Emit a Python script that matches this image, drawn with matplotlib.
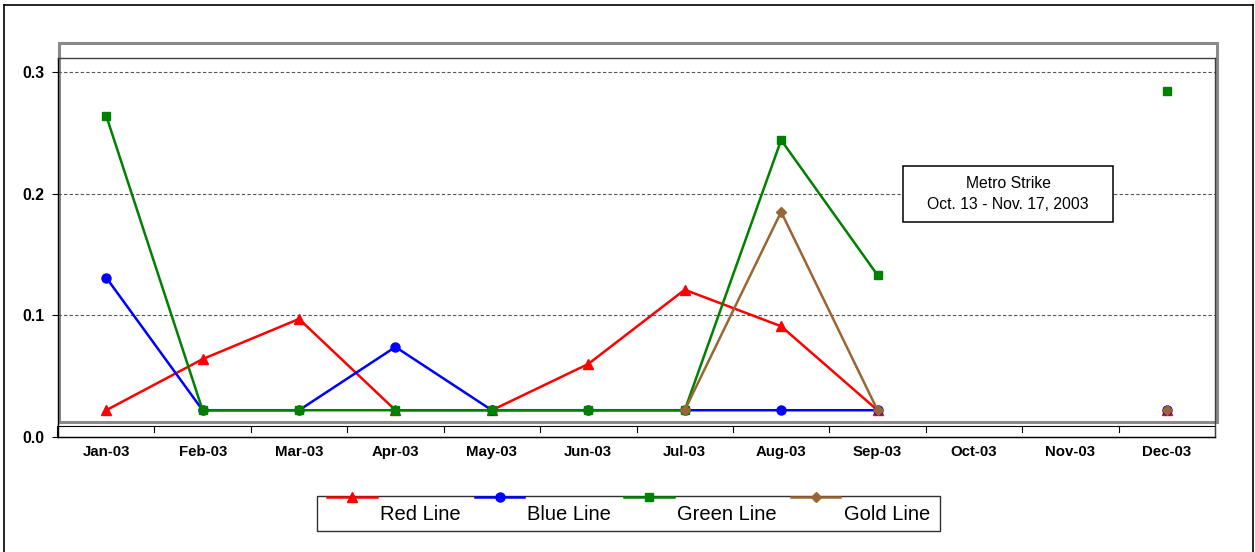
import numpy as np
import matplotlib
matplotlib.use("Agg")
import matplotlib.pyplot as plt
from matplotlib.patches import Rectangle
from matplotlib.lines import Line2D
from matplotlib.transforms import blended_transform_factory

plt.rcParams['font.family'] = ['Liberation Sans', 'DejaVu Sans']

# ---- data -------------------------------------------------------------
months = ['Jan-03', 'Feb-03', 'Mar-03', 'Apr-03', 'May-03', 'Jun-03',
          'Jul-03', 'Aug-03', 'Sep-03', 'Oct-03', 'Nov-03', 'Dec-03']
nan = np.nan
red_line = [0.022, 0.064, 0.097, 0.022, 0.022, 0.060, 0.121, 0.091, 0.022, nan, nan, 0.022]
blue_line = [0.131, 0.022, 0.022, 0.074, 0.022, 0.022, 0.022, 0.022, 0.022, nan, nan, 0.022]
green_line = [0.264, 0.022, 0.022, 0.022, 0.022, 0.022, 0.022, 0.244, 0.133, nan, nan, 0.284]
gold_line = [nan, nan, nan, nan, nan, nan, 0.022, 0.185, 0.022, nan, nan, 0.022]
y_ticks = [0.0, 0.1, 0.2, 0.3]
y_tick_labels = ['0.0', '0.1', '0.2', '0.3']
note_text = 'Metro Strike\nOct. 13 - Nov. 17, 2003'

series = [
    ('Red Line', red_line, '#FF0000', '^', 7.5),
    ('Blue Line', blue_line, '#0000FF', 'o', 6.5),
    ('Green Line', green_line, '#008000', 's', 6.2),
    ('Gold Line', gold_line, '#996633', 'D', 5.0),
]

# ---- figure -----------------------------------------------------------
W, H = 1255, 552
fig = plt.figure(figsize=(W / 100, H / 100), dpi=100)


def fx(x):
    return x / W


def fy(y):
    return 1 - y / H


# outer chart border
for xs, ys in [([4, 4], [5, H + 5]), ([4, 1253], [5, 5]), ([1253, 1253], [5, H + 5])]:
    fig.add_artist(Line2D([fx(v) for v in xs], [fy(v) for v in ys],
                          transform=fig.transFigure, color='black', lw=1.2))

ax = fig.add_axes([fx(58), fy(437), fx(1215) - fx(58), fy(58) - fy(437)])
ax.set_facecolor('none')
ax.set_xlim(-0.5, len(months) - 0.5)
ax.set_ylim(0, (437 - 58) / 1217)
ax.set_axisbelow(True)

# back wall
ax.add_patch(Rectangle((fx(59), fy(422)), fx(1217) - fx(59), fy(43) - fy(422),
                       transform=fig.transFigure, facecolor='white',
                       edgecolor='#8a8a8a', lw=2.2, clip_on=False, zorder=0.2))
# floor strip
ax.add_patch(Rectangle((fx(57), fy(437)), fx(1215) - fx(57), fy(426) - fy(437),
                       transform=fig.transFigure, facecolor='white',
                       edgecolor='black', lw=0.8, clip_on=False, zorder=1))
# category separators on the floor
trans = blended_transform_factory(ax.transData, fig.transFigure)
for k in range(1, len(months)):
    ax.plot([k - 0.5, k - 0.5], [fy(426), fy(432)], transform=trans,
            color='black', lw=0.8, clip_on=False, zorder=1.1)

for side in ('left', 'bottom'):
    ax.spines[side].set_color('black')
    ax.spines[side].set_linewidth(1.0)
for side in ('top', 'right'):
    ax.spines[side].set_color('#404040')
    ax.spines[side].set_linewidth(1.0)

ax.set_yticks(y_ticks)
ax.set_yticklabels(y_tick_labels, fontsize=11.4, fontweight='bold')
ax.tick_params(axis='y', direction='out', length=4.3, width=0.8, pad=5.5)
ax.yaxis.grid(True, linestyle=(0, (3, 2)), color='#555555', lw=0.8)

ax.set_xticks(range(len(months)))
ax.set_xticklabels(months, fontsize=10.8, fontweight='bold')
ax.tick_params(axis='x', length=0, pad=6)

# series
for i, (name, vals, col, mk, ms) in enumerate(series):
    ax.plot(range(len(months)), vals, color=col, lw=1.8, marker=mk, ms=ms,
            mfc=col, mec=col, clip_on=False, zorder=3 + i, label=name)

# strike note
fig.add_artist(Rectangle((fx(903), fy(222)), fx(1113) - fx(903), fy(166) - fy(222),
                         transform=fig.transFigure, facecolor='white',
                         edgecolor='black', lw=1.1, zorder=10))
fig.text(fx(1008), fy(194), note_text, ha='center', va='center',
         fontsize=11.3, linespacing=1.45, zorder=11)

# legend
fig.add_artist(Rectangle((fx(317), fy(531)), fx(940) - fx(317), fy(496) - fy(531),
                         transform=fig.transFigure, facecolor='white',
                         edgecolor='#303030', lw=1.0, zorder=10))
legend_pos = [(327, 377, 380), (475, 524, 527), (624, 674, 677), (791, 840, 844)]
for (name, vals, col, mk, ms), (x0, x1, tx) in zip(series, legend_pos):
    fig.add_artist(Line2D([fx(x0), fx(x1)], [fy(497), fy(497)],
                          transform=fig.transFigure, color=col, lw=1.8, zorder=11))
    fig.add_artist(Line2D([fx((x0 + x1) / 2)], [fy(497)], transform=fig.transFigure,
                          marker=mk, ms=ms, mfc=col, mec=col, lw=0, zorder=12))
    fig.text(fx(tx), fy(514), name, ha='left', va='center', fontsize=14.5, zorder=12)

fig.savefig('out.png', dpi=100)
